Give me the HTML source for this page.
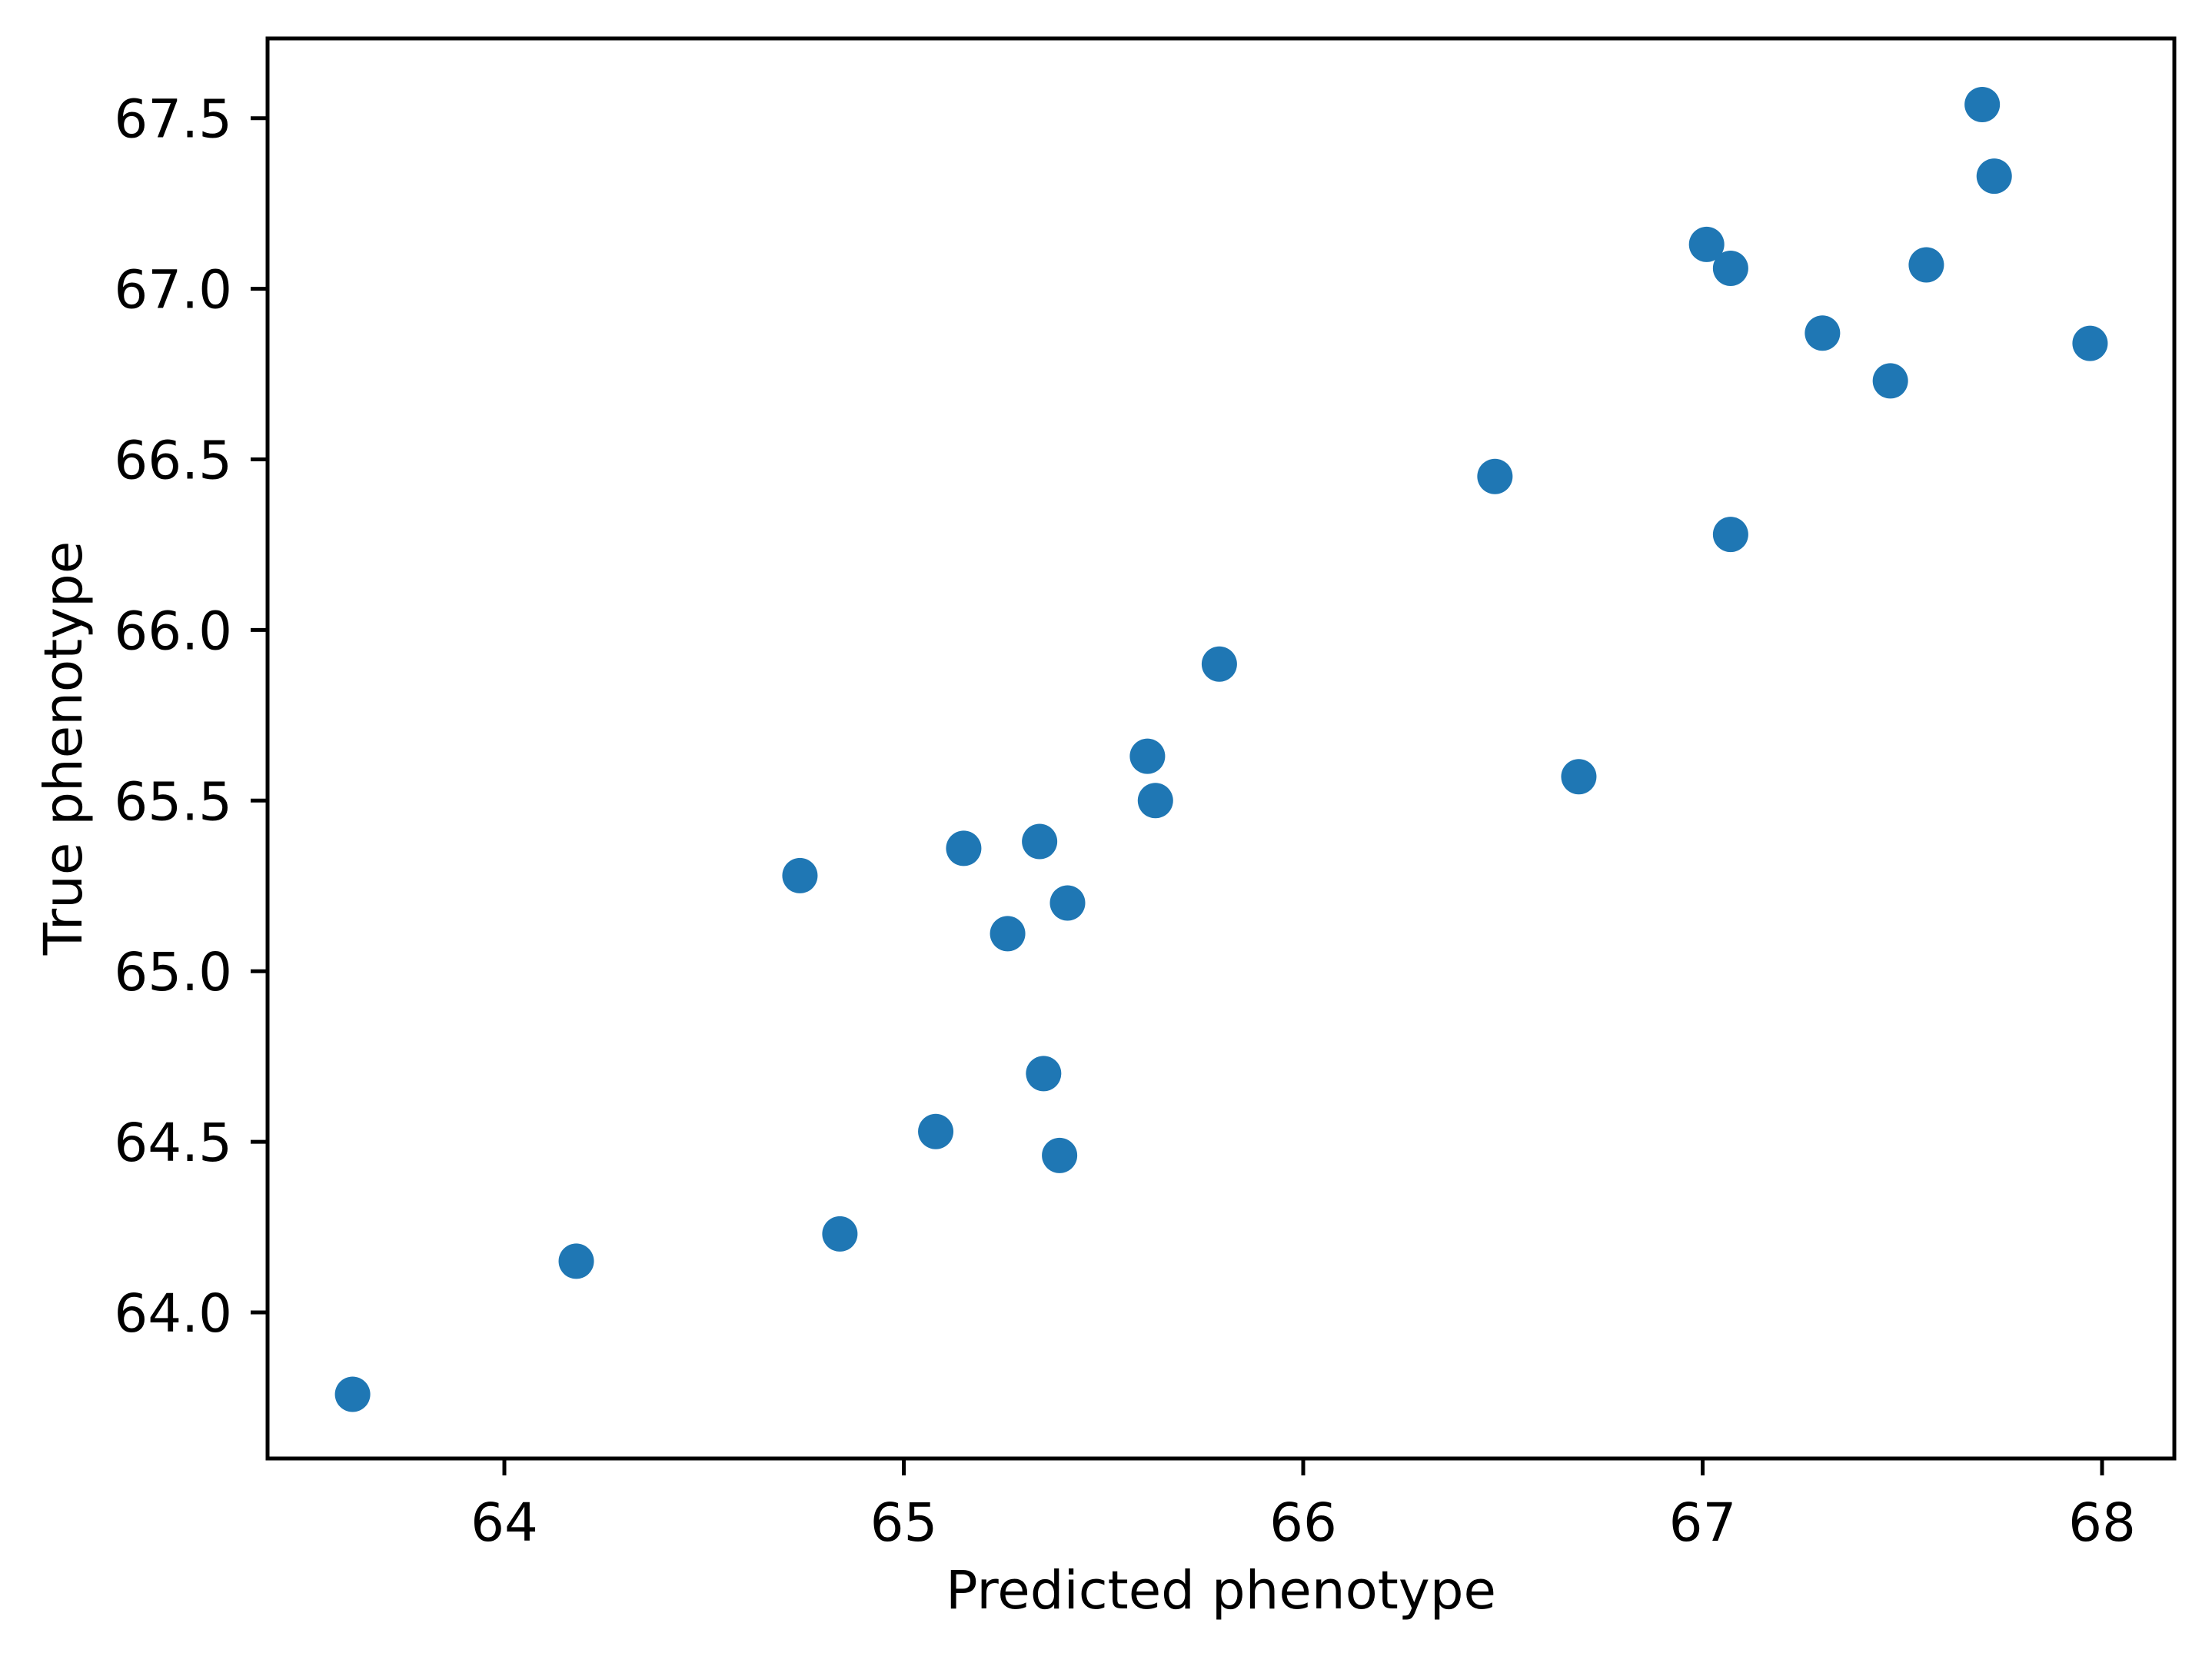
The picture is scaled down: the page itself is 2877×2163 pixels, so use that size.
<!DOCTYPE html>
<html><head><meta charset="utf-8"><style>
html,body{margin:0;padding:0;background:#fff}
svg text{font-family:"DejaVu Sans","Liberation Sans",sans-serif;fill:#000}
</style></head><body>
<svg id="chart" width="2877" height="2158" viewBox="0 0 2877 2158" xmlns="http://www.w3.org/2000/svg">
<rect x="0" y="0" width="2877" height="2158" fill="#fff"/>
<g id="points"></g>
<rect x="348" y="50" width="2480" height="1847" fill="none" stroke="#000" stroke-width="5"/>
<g id="xticks"></g>
<g id="yticks"></g>
<text x="1588" y="2092" font-size="69" text-anchor="middle">Predicted phenotype</text>
<text x="0" y="0" font-size="69" text-anchor="middle" transform="translate(106,973) rotate(-90)">True phenotype</text>
</svg>
<script>
const predicted = [63.62,64.18,64.84,64.74,65.08,65.15,65.26,65.34,65.35,65.39,65.41,65.61,65.63,65.79,66.48,66.69,67.01,67.07,67.07,67.30,67.47,67.56,67.70,67.73,67.97];
const truePheno = [63.76,64.15,64.23,65.28,64.53,65.36,65.11,65.38,64.70,64.46,65.20,65.63,65.50,65.90,66.45,65.57,67.13,66.28,67.06,66.87,66.73,67.07,67.54,67.33,66.84];
const xTicks = [64,65,66,67,68];
const xTickLabels = ["64","65","66","67","68"];
const yTicks = [64.0,64.5,65.0,65.5,66.0,66.5,67.0,67.5];
const yTickLabels = ["64.0","64.5","65.0","65.5","66.0","66.5","67.0","67.5"];

const NS="http://www.w3.org/2000/svg";
function xs(v){return 656+(v-64)*519.5;}
function ys(v){return 1707-(v-64)*443.8;}
const pg=document.getElementById('points');
predicted.forEach((p,i)=>{
  const c=document.createElementNS(NS,'circle');
  c.setAttribute('cx',xs(p));c.setAttribute('cy',ys(truePheno[i]));
  c.setAttribute('r',23);c.setAttribute('fill','#1f77b4');
  
  
  pg.appendChild(c);
});
const xg=document.getElementById('xticks');
xTicks.forEach((t,i)=>{
  const x=xs(t);
  const l=document.createElementNS(NS,'line');
  l.setAttribute('x1',x);l.setAttribute('x2',x);l.setAttribute('y1',1897);l.setAttribute('y2',1919);
  l.setAttribute('stroke','#000');l.setAttribute('stroke-width',5);
  
  
  xg.appendChild(l);
  const tx=document.createElementNS(NS,'text');
  tx.setAttribute('x',x);tx.setAttribute('y',2004);tx.setAttribute('font-size',69);tx.setAttribute('text-anchor','middle');
  tx.textContent=xTickLabels[i];
  
  
  xg.appendChild(tx);
});
const yg=document.getElementById('yticks');
yTicks.forEach((t,i)=>{
  const y=ys(t);
  const l=document.createElementNS(NS,'line');
  l.setAttribute('x1',326);l.setAttribute('x2',348);l.setAttribute('y1',y);l.setAttribute('y2',y);
  l.setAttribute('stroke','#000');l.setAttribute('stroke-width',5);
  
  
  yg.appendChild(l);
  const tx=document.createElementNS(NS,'text');
  tx.setAttribute('x',302);tx.setAttribute('y',y+25);tx.setAttribute('font-size',69);tx.setAttribute('text-anchor','end');
  tx.textContent=yTickLabels[i];
  
  
  yg.appendChild(tx);
});
</script>
</body></html>
